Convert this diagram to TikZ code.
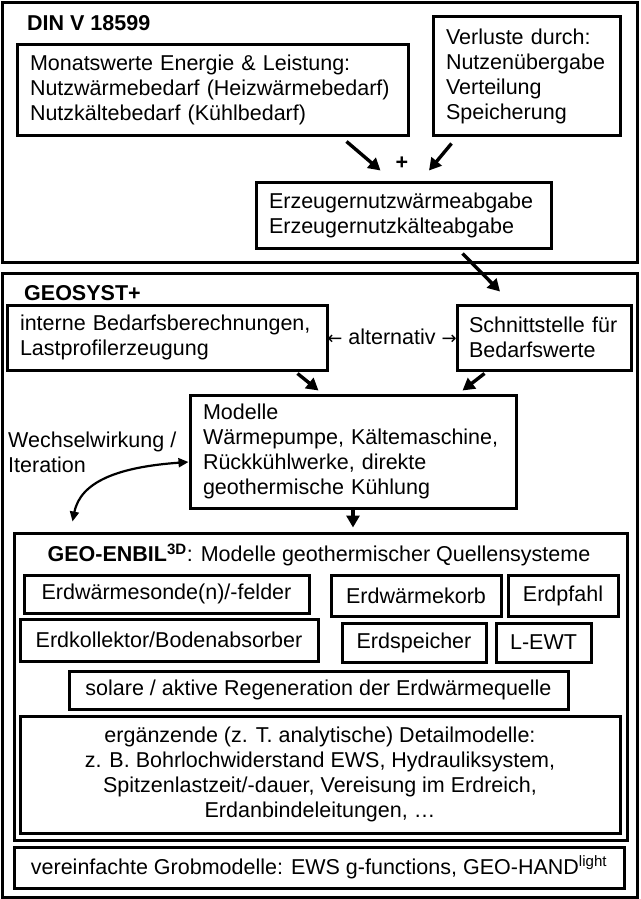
\documentclass[tikz,border=0pt]{standalone}
\usepackage{fontspec}
\setmainfont{Liberation Sans}
\newfontfamily\symfont{DejaVu Sans}
\usetikzlibrary{arrows.meta}

\begin{document}
\begin{tikzpicture}[x=1pt,y=-1pt,
    font=\fontsize{21.5}{25}\selectfont,
    frame/.style={draw,line width=3pt,inner sep=0pt},
    box/.style={draw,line width=3pt,inner xsep=13pt,inner ysep=0pt,align=left},
    kbox/.style={draw,line width=3pt,inner sep=0pt,align=center},
    titel/.style={anchor=west,inner sep=0pt,font=\fontsize{21.5}{25}\selectfont\bfseries},
    pfeil/.style={line width=3.4pt,-{Triangle[length=12pt,width=13pt]}},
    bogen/.style={line width=2.2pt,{Triangle[length=10pt,width=9pt]}-{Triangle[length=10pt,width=9pt]}}]

        \useasboundingbox (0,0) rectangle (640,899);

        % DIN V 18599
        \node[frame,minimum width=635pt,minimum height=259pt] (din) at (319.5,132.5) {};
        \node[titel] (dinT) at (27,23) {DIN V 18599};
        \node[box,text width=365pt,minimum height=90pt]  (monat)    at (212.5,90)  {Monatswerte Energie \& Leistung:\\Nutzwärmebedarf (Heizwärmebedarf)\\Nutzkältebedarf (Kühlbedarf)};
        \node[box,text width=161pt,minimum height=118pt] (verluste) at (526.5,76)  {Verluste durch:\\Nutzenübergabe\\Verteilung\\Speicherung};
        \node[box,text width=269pt,minimum height=66pt]  (erz)      at (403.5,215) {Erzeugernutzwärmeabgabe\\Erzeugernutzkälteabgabe};
        \node[inner sep=0pt,font=\fontsize{21.5}{25}\selectfont\bfseries] (plus) at (402,163) {+};

        % GEOSYST+
        \node[frame,minimum width=635pt,minimum height=624pt] (geo) at (319.5,585) {};
        \node[titel] (geoT) at (24,293) {GEOSYST+};
        \node[box,text width=294pt,minimum height=65pt]  (intern)  at (167,337.5) {interne Bedarfsberechnungen,\\Lastprofilerzeugung};
        \node[box,inner xsep=12pt,text width=150pt,minimum height=65pt] (schnitt) at (544,337.5) {Schnittstelle für\\Bedarfswerte};
        \node[inner sep=0pt] (alt) at (392,337) {{\symfont\fontsize{18}{18}\selectfont ←} alternativ {\symfont\fontsize{18}{18}\selectfont →}};
        \node[box,text width=300pt,minimum height=113pt] (modelle) at (353,451.5) {Modelle\\Wärmepumpe, Kältemaschine,\\Rückkühlwerke, direkte\\geothermische Kühlung};
        \node[anchor=west,inner sep=0pt,align=left] (wechsel) at (8,452) {Wechselwirkung /\\Iteration};

        % GEO-ENBIL
        \node[frame,minimum width=613pt,minimum height=307pt] (enbil) at (320.5,686.5) {};
        \node[inner sep=0pt] (enbilT) at (319,555) {\textbf{GEO-ENBIL\textsuperscript{3D}}: Modelle geothermischer Quellensysteme};
        \node[kbox,minimum width=285pt,minimum height=38pt] (sonde)     at (166.5,594)  {Erdwärmesonde(n)/-felder};
        \node[kbox,minimum width=170pt,minimum height=41pt] (korb)      at (416,595.5)  {Erdwärmekorb};
        \node[kbox,minimum width=110pt,minimum height=41pt] (pfahl)     at (563,595.5)  {Erdpfahl};
        \node[kbox,minimum width=298pt,minimum height=42pt] (kollektor) at (169,640)    {Erdkollektor/Bodenabsorber};
        \node[kbox,minimum width=144pt,minimum height=39pt] (speicher)  at (414,642.5)  {Erdspeicher};
        \node[kbox,minimum width=95pt,minimum height=39pt]  (lewt)      at (543.5,642.5){L-EWT};
        \node[kbox,minimum width=499pt,minimum height=38pt] (solar)     at (318.5,690)  {solare / aktive Regeneration der Erdwärmequelle};
        \node[kbox,minimum width=600pt,minimum height=117pt] (detail)   at (320,774.5)  {ergänzende (z. T. analytische) Detailmodelle:\\z. B. Bohrlochwiderstand EWS, Hydrauliksystem,\\Spitzenlastzeit/-dauer, Vereisung im Erdreich,\\Erdanbindeleitungen, \dots};
        \node[kbox,minimum width=610pt,minimum height=41pt] (grob)      at (319,867.5)  {vereinfachte Grobmodelle: EWS g-functions, GEO-HAND\textsuperscript{light}};

        % Pfeile
        \draw[pfeil] ([xshift=-63pt,yshift=-5pt]monat.south east)   -- ([xshift=126pt,yshift=10pt]erz.north west);
        \draw[pfeil] ([xshift=20pt,yshift=-7pt]verluste.south west) -- ([xshift=25.5pt,yshift=10pt]erz.north);
        \draw[pfeil] ([xshift=-90pt,yshift=-4pt]erz.south east)     -- ([xshift=-44pt,yshift=12pt]schnitt.north);
        \draw[pfeil] ([xshift=-31pt,yshift=-2pt]intern.south east)  -- ([xshift=130pt,yshift=3pt]modelle.north west);
        \draw[pfeil] ([xshift=29pt,yshift=-2pt]schnitt.south west)  -- ([xshift=-55pt,yshift=3pt]modelle.north east);
        \draw[pfeil,shorten >=4pt] (modelle.south) -- (modelle.south |- enbil.north);
        \draw[bogen] ([xshift=60pt,yshift=10pt]enbil.north west) .. controls +(8,-40) and +(-70,5) .. ([yshift=-10.5pt]modelle.west);
\end{tikzpicture}
\end{document}
